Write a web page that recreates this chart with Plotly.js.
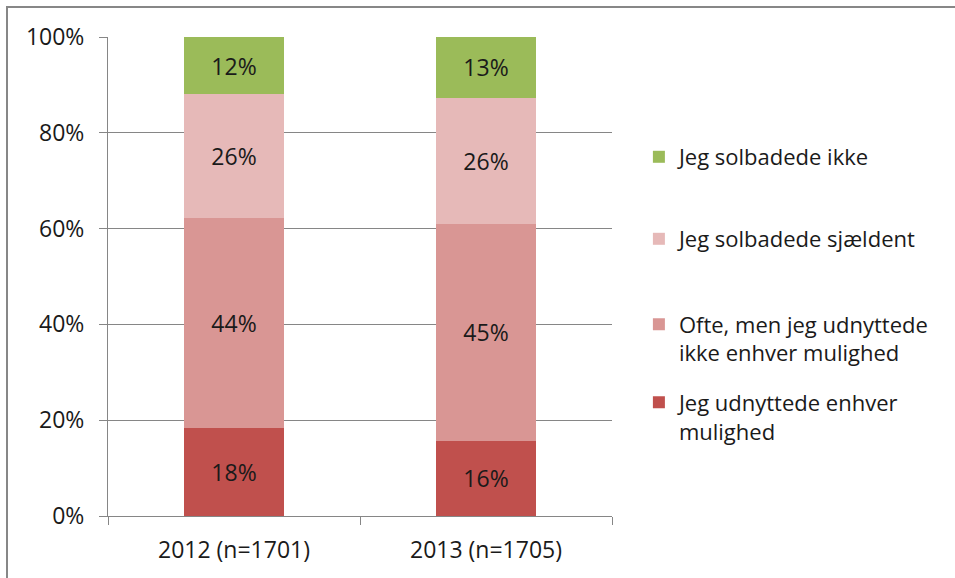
<!DOCTYPE html>
<html>
<head>
<meta charset="utf-8">
<script src="https://cdn.plot.ly/plotly-3.0.1.min.js"></script>
<style>
  html, body { margin: 0; padding: 0; background: #fff; }
  #wrap { position: relative; width: 955px; height: 578px; }
  #chart { width: 955px; height: 578px; }
  #frame { position: absolute; left: 6px; top: 6px; width: 949px; height: 572px;
           border-left: 2px solid #878787; border-top: 2px solid #878787; pointer-events: none; }
</style>
</head>
<body>
<div id="wrap"><div id="chart"></div><div id="frame"></div></div>
<script>
const categories = ["2012 (n=1701)", "2013 (n=1705)"];
const seriesNames = [
  "Jeg udnyttede enhver<br>mulighed",
  "Ofte, men jeg udnyttede<br>ikke enhver mulighed",
  "Jeg solbadede sjældent",
  "Jeg solbadede ikke"
];
const udnyttedeEnhver = [18.4, 15.7];
const ofteIkkeEnhver = [43.8, 45.3];
const sjaeldent = [25.9, 26.3];
const ikke = [11.9, 12.7];
const labelsUdnyttede = ["18%", "16%"];
const labelsOfte = ["44%", "45%"];
const labelsSjaeldent = ["26%", "26%"];
const labelsIkke = ["12%", "13%"];
const colors = ["#C0504D", "#D99694", "#E6B9B8", "#9BBB59"];
const yTickVals = [0, 20, 40, 60, 80, 100];
const yTickText = ["0%", "20%", "40%", "60%", "80%", "100%"];

const values = [udnyttedeEnhver, ofteIkkeEnhver, sjaeldent, ikke];
const labels = [labelsUdnyttede, labelsOfte, labelsSjaeldent, labelsIkke];
const FONT = "'Open Sans', sans-serif";
const legendIds = ["legend4", "legend3", "legend2", "legend"];
const legendCenters = [0.2785, 0.4135, 0.5865, 0.7284];

const traces = values.map((v, i) => ({
  type: "bar",
  name: seriesNames[i],
  x: categories,
  y: v,
  text: labels[i],
  texttemplate: "%{text}",
  textposition: "inside",
  insidetextanchor: "middle",
  textangle: 0,
  constraintext: "none",
  insidetextfont: { family: FONT, size: 23, color: "#1a1a1a" },
  marker: { color: colors[i], line: { width: 0 } },
  legend: legendIds[i],
  hoverinfo: "skip"
}));

function legendSpec(yc) {
  return {
    xref: "container", yref: "container",
    x: 0.669, y: yc, xanchor: "left", yanchor: "middle",
    valign: "top",
    font: { family: FONT, size: 22, color: "#1a1a1a" },
    itemwidth: 30,
    bgcolor: "rgba(0,0,0,0)"
  };
}

const layout = {
  width: 955, height: 578,
  margin: { l: 108, r: 343, t: 37, b: 62 },
  barmode: "stack",
  bargap: 0.6,
  paper_bgcolor: "#fff",
  plot_bgcolor: "#fff",
  font: { family: FONT, size: 22, color: "#1a1a1a" },
  showlegend: true,
  xaxis: {
    type: "category",
    tickson: "boundaries",
    ticks: "outside", ticklen: 8, tickcolor: "#868686", tickwidth: 1,
    showline: true, linecolor: "#868686", linewidth: 1,
    showgrid: false,
    ticklabelstandoff: 13,
    tickfont: { family: FONT, size: 23, color: "#1a1a1a" },
    fixedrange: true
  },
  yaxis: {
    range: [0, 100],
    tickvals: yTickVals, ticktext: yTickText,
    ticks: "outside", ticklen: 8, tickcolor: "#868686", tickwidth: 1,
    showline: true, linecolor: "#868686", linewidth: 1,
    showgrid: true, gridcolor: "#868686", gridwidth: 1,
    zeroline: false,
    ticklabelstandoff: 10,
    tickfont: { family: FONT, size: 23, color: "#1a1a1a" },
    fixedrange: true
  }
};
legendIds.forEach((id, i) => { layout[id] = legendSpec(legendCenters[i]); });

Plotly.newPlot("chart", traces, layout, { displayModeBar: false, staticPlot: true });
</script>
</body>
</html>
